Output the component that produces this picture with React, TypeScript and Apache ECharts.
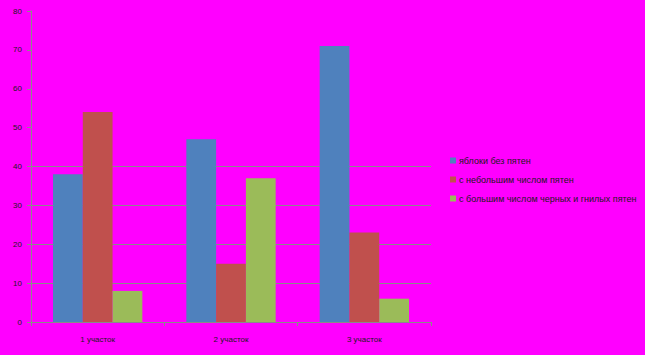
import React, { useEffect, useRef } from "react";
import * as echarts from "echarts";

const categories = ["1 участок", "2 участок", "3 участок"];
const seriesNames = [
  "яблоки без пятен",
  "с небольшим числом пятен",
  "с большим числом черных и гнилых пятен",
];
const noSpots = [38, 47, 71];
const fewSpots = [54, 15, 23];
const manySpots = [8, 37, 6];
const colors = ["#4F81BD", "#C0504D", "#9BBB59"];

export default function App() {
  const ref = useRef<HTMLDivElement>(null);
  useEffect(() => {
    if (!ref.current) return;
    const chart = echarts.init(ref.current, undefined, { renderer: "svg" });
    const gridColor = "#8a8a8a";
    const values = [noSpots, fewSpots, manySpots];
    chart.setOption({
      animation: false,
      backgroundColor: "#FF00FF",
      textStyle: { fontFamily: "Liberation Sans" },
      grid: { left: 31, top: 11, width: 400, height: 311, containLabel: false },
      legend: {
        orient: "vertical",
        left: 445,
        top: 151,
        itemWidth: 6,
        itemHeight: 6,
        itemGap: 10,
        icon: "rect",
        textStyle: { fontSize: 9, color: "#1a1a1a", padding: [0, 0, 0, -2] },
        data: seriesNames,
      },
      xAxis: {
        type: "category",
        data: categories,
        axisLine: { lineStyle: { color: gridColor, width: 1 } },
        axisTick: { show: true, length: 4, lineStyle: { color: gridColor } },
        axisLabel: { fontSize: 8, color: "#1a1a1a", margin: 13 },
        splitLine: { show: false },
      },
      yAxis: {
        type: "value",
        min: 0,
        max: 80,
        interval: 10,
        axisLine: { show: true, lineStyle: { color: gridColor, width: 1 } },
        axisTick: { show: true, length: 4, lineStyle: { color: gridColor } },
        axisLabel: { fontSize: 8, color: "#1a1a1a", margin: 9 },
        splitLine: {
          show: true,
          lineStyle: {
            color: [
              "transparent",
              gridColor,
              gridColor,
              gridColor,
              gridColor,
              "transparent",
              "transparent",
              "transparent",
              "transparent",
            ],
            width: 1,
          },
        },
      },
      series: seriesNames.map((name, i) => ({
        name,
        type: "bar",
        data: values[i],
        barGap: "0%",
        barCategoryGap: "33%",
        itemStyle: { color: colors[i] },
      })),
    });
    return () => chart.dispose();
  }, []);
  return (
    <div
      ref={ref}
      style={{ position: "fixed", left: 0, top: 0, width: 645, height: 355 }}
    />
  );
}
